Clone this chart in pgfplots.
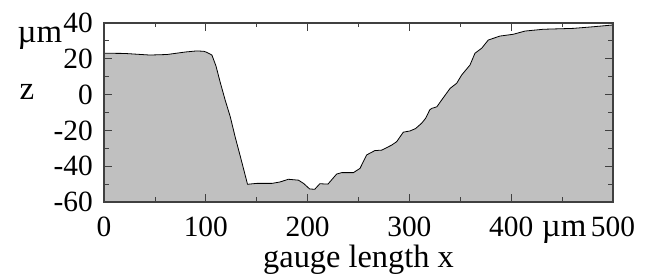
\documentclass[border=0pt]{standalone}
\usepackage{fontspec}
\setmainfont{Liberation Serif}
\usepackage{pgfplots}
\usepackage{pgfplotstable}
\pgfplotsset{compat=1.18}
\usepgfplotslibrary{fillbetween}
\definecolor{fillgray}{RGB}{192,192,192}
\pgfplotstableread{
x z
0 23.1
20 23.0
45 22.1
62 22.4
80 23.8
91 24.4
98 24.2
101 23.6
106 22.1
110 16
114 7.2
119 -3
124 -12.3
129 -24
134 -34.7
138 -43.5
141 -50.1
150 -49.6
165 -49.6
173 -48.8
181 -47.3
191 -47.8
196 -49.6
202 -52.7
207 -52.9
212 -49.8
220 -50
228.5 -44.4
233.4 -43.6
245 -43.6
251.5 -41.2
258 -33.7
266 -31.3
273 -31
282.6 -28.2
287.5 -26.3
294 -21
300.6 -20.3
306 -19
312 -16
316 -13.2
320 -8.5
322 -7.7
327 -6.8
331.7 -3
340 3.5
346.4 6.3
351.4 11
359.5 16.5
364.4 23.1
371 25.9
377.5 30.5
389 32.7
402 33.7
413.6 35.5
431.5 36.5
461 37
480.6 37.9
500 38.9
}\profile
\begin{document}
\begin{tikzpicture}
\begin{axis}[
  at={(0,0)}, anchor=south west,
  scale only axis, width=509bp, height=179bp,
  xmin=0, xmax=500, ymin=-60, ymax=40,
  xtick={0,100,200,300,400,500},
  xticklabels={0,100,200,300,400,500},
  ytick={-60,-40,-20,0,20,40},
  yticklabels={-60,-40,-20,0,20,40},
  minor x tick num=1, minor y tick num=1,
  tick align=inside,
  major tick length=8bp, minor tick length=4.5bp,
  tick style={black!75, line width=0.8bp},
  axis line style={black!75, line width=1.2bp},
  ticklabel style={font=\fontsize{29.5}{34}\selectfont, inner sep=0pt},
  xticklabel style={anchor=base, yshift=-34bp},
  yticklabel style={anchor=east, xshift=-11bp},
  xlabel={gauge length x},
  xlabel style={font=\fontsize{32.5}{38}\selectfont, inner sep=0pt, at={(rel axis cs:0.5,0)}, anchor=base, yshift=-65bp},
  ylabel={z},
  ylabel style={font=\fontsize{33}{38}\selectfont, inner sep=0pt, rotate=-90, at={(rel axis cs:0,0)}, anchor=base, xshift=-77bp, yshift=102bp},
  axis on top, clip=false,
]
\addplot[draw=none, name path=curve] table[x=x, y=z] {\profile};
\addplot[draw=none, name path=bot] coordinates {(0,-60) (500,-60)};
\addplot[fillgray] fill between[of=curve and bot];
\addplot[black, line width=0.8bp] table[x=x, y=z] {\profile};
\node[anchor=base, inner sep=0pt, font=\fontsize{33}{38}\selectfont] at ([yshift=-34bp]axis cs:452,-60) {µm};
\node[anchor=base, inner sep=0pt, font=\fontsize{33}{38}\selectfont] at ([xshift=-64bp, yshift=159bp]rel axis cs:0,0) {µm};
\end{axis}
\pgfresetboundingbox
\path[use as bounding box] (-104bp,-74bp) rectangle (550bp,202bp);
\end{tikzpicture}
\end{document}
